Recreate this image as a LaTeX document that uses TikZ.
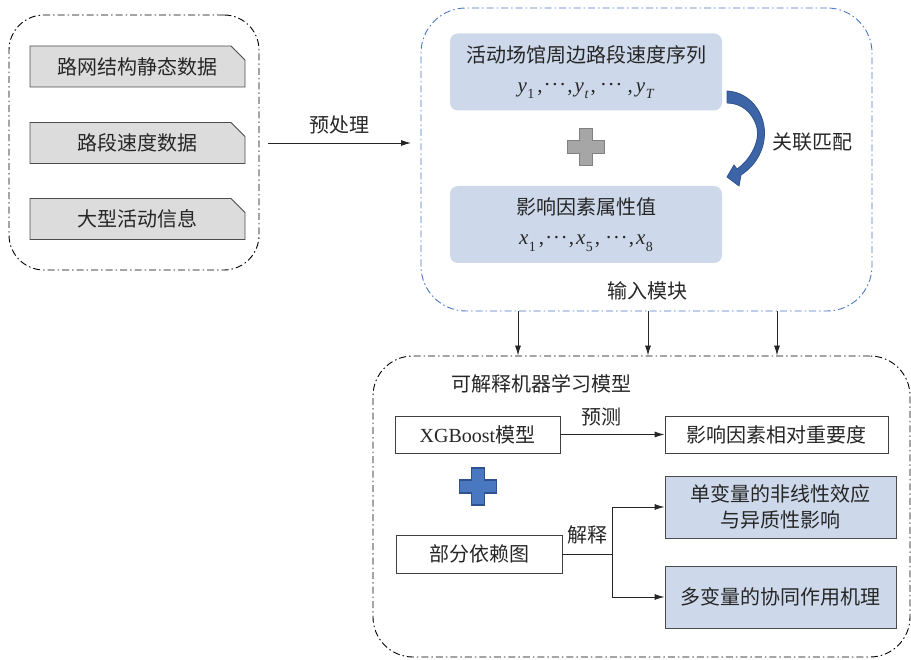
\documentclass[tikz,border=0pt]{standalone}
\usepackage{fontspec}
\setmainfont{Liberation Serif}
\newfontfamily\cjk{Noto Sans CJK SC}
\usetikzlibrary{arrows.meta,shapes.misc}
\definecolor{grayfill}{HTML}{DCDCDC}
\definecolor{lblue}{HTML}{CDD9EA}
\definecolor{dblue}{HTML}{4A78C0}
\definecolor{arrblue}{HTML}{3C64A6}
\definecolor{arredge}{HTML}{2F528F}
\definecolor{txt}{HTML}{262626}
\newcommand{\varsub}[2]{\textit{#1}\kern0.5pt\raisebox{-0.3em}{\fontsize{14}{14}\selectfont #2}}
\newcommand{\hdots}{\raisebox{0.3em}{\kern1pt.\kern2.5pt.\kern2.5pt.\kern1pt}}
\begin{document}
\begin{tikzpicture}[x=1pt,y=-1pt,
  every node/.style={font=\fontsize{20}{24}\selectfont\cjk, text=txt, inner sep=0pt},
  container/.style={dash pattern=on 7pt off 3pt on 1.5pt off 3pt, line width=0.9pt},
  graybox/.style={draw=black!70, fill=grayfill, line width=0.9pt, chamfered rectangle, chamfered rectangle corners=north east, chamfered rectangle xsep=7pt, chamfered rectangle ysep=7pt, minimum width=215pt, minimum height=41pt},
  bluebox/.style={fill=lblue, rounded corners=8pt, minimum width=272pt, minimum height=77pt, align=center},
  whitebox/.style={draw=black!75, line width=0.9pt, minimum height=37pt},
  shadebox/.style={draw=black!70, fill=lblue, line width=0.9pt, minimum width=231pt, minimum height=62pt, align=center},
  arr/.style={-{Latex[length=10pt,width=6pt]}, line width=0.9pt, draw=black!85},
  crossmark/.pic={\draw[pic actions] (-18.5,-6.5) -- (-6.5,-6.5) -- (-6.5,-18.5) -- (6.5,-18.5) -- (6.5,-6.5) -- (18.5,-6.5) -- (18.5,6.5) -- (6.5,6.5) -- (6.5,18.5) -- (-6.5,18.5) -- (-6.5,6.5) -- (-18.5,6.5) -- cycle;}
]
\useasboundingbox (0,0) rectangle (911,660);

% containers
\node[container, draw=black, rounded corners=35pt, minimum width=250pt, minimum height=255pt] (lc) at (134,142.5) {};
\node[container, draw=dblue, rounded corners=45pt, minimum width=451pt, minimum height=303pt] (bc) at (646.5,159.5) {};
\node[container, draw=black, rounded corners=40pt, minimum width=537pt, minimum height=301pt] (mc) at (641.5,506.5) {};

% left data boxes
\node[graybox] (d1) at (137.5,66.5) {路网结构静态数据};
\node[graybox] (d2) at (137.5,143) {路段速度数据};
\node[graybox] (d3) at (137.5,219) {大型活动信息};

% preprocessing arrow
\coordinate (ps) at (268,143);
\coordinate (pe) at (411,143);
\draw[arr] (ps) -- node[above=8pt] (pl) {预处理} (pe);

% input module
\node[bluebox] (ya) at (586,72) {活动场馆周边路段速度序列\\[6pt] {\rmfamily\fontsize{21}{22}\selectfont \varsub{y}{1}\kern3pt,\kern1pt\hdots\kern1pt,\kern2pt\varsub{y}{\textit{t}}\kern2pt,\kern4pt\hdots\kern5pt,\kern3pt\varsub{y}{\textit{T}}}};
\node[bluebox] (xa) at (586,224.5) {影响因素属性值\\[6pt] {\rmfamily\fontsize{21}{22}\selectfont \varsub{x}{1}\kern3pt,\kern1pt\hdots\kern1pt,\kern2pt\varsub{x}{5}\kern2pt,\kern5pt\hdots\kern1pt,\kern2pt\varsub{x}{8}}};
\pic[fill=black!35, draw=black!50, line width=1.4pt] at (586,147) {crossmark};

% curved blue arrow
\fill[arrblue, draw=arredge, line width=0.8pt]
  (727,91) .. controls (752,92) and (770,118) .. (763,145)
  .. controls (759,160) and (750,169) .. (741,175)
  -- (739,186) -- (727,177) -- (734,165) -- (737,169)
  .. controls (750,160) and (760,142) .. (757,128)
  .. controls (753,112) and (741,103) .. (727,103) -- cycle;
\node (match) at (812,142) {关联匹配};
\node (inl) at (647,291) {输入模块};

% down arrows
\foreach \xx [count=\i] in {518,648,777} {
  \coordinate (dn\i) at (\xx,0);
  \draw[arr] (dn\i |- bc.south) -- (dn\i |- mc.north);
}

% model module
\node[anchor=west] (mt) at (451,384) {可解释机器学习模型};
\node[whitebox, minimum width=165pt] (xgb) at (477.5,434.5) {{\rmfamily XGBoost}模型};
\node[whitebox, minimum width=223pt] (imp) at (776.5,434.5) {影响因素相对重要度};
\draw[arr] (xgb.east) -- (imp.west);
\node (pred) at (601,417) {预测};
\pic[fill=dblue, draw=arredge, line width=1.2pt] at (478,486.5) {crossmark};
\node[whitebox, minimum width=166pt, minimum height=38pt] (pdp) at (479,554) {部分依赖图};
\node[shadebox] (uni) at (780.5,507) {单变量的非线性效应\\[2pt]与异质性影响};
\node[shadebox] (mul) at (780.5,597) {多变量的协同作用机理};
\coordinate (br) at (612,554);
\draw[line width=0.9pt, draw=black!85] (pdp.east) -- (br);
\draw[arr] (br) |- (uni.west);
\draw[arr] (br) |- (mul.west);
\node (expl) at (587,535) {解释};
\end{tikzpicture}
\end{document}
